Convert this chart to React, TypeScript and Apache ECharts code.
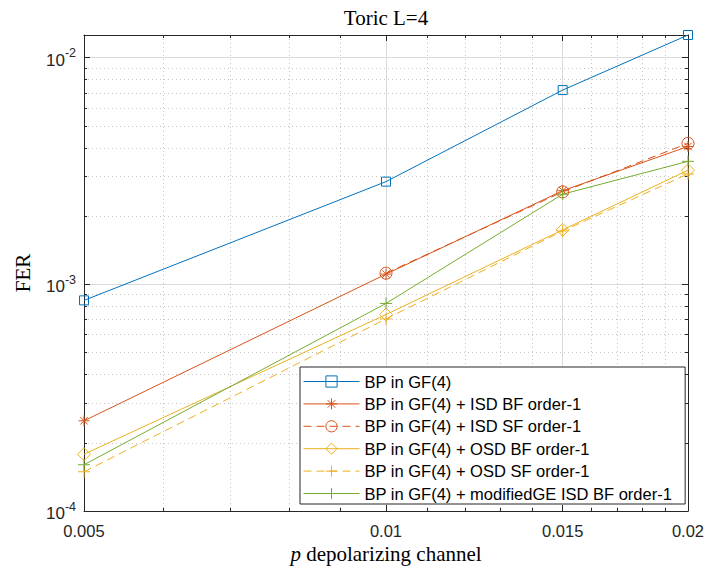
import React, { useEffect, useRef } from "react";
import * as echarts from "echarts";

// ---- data ----
const pValues = [0.005, 0.01, 0.015, 0.02];
const bpGF4 = [8.5e-4, 2.84e-3, 7.2e-3, 1.26e-2];
const isdBF = [2.5e-4, 1.11e-3, 2.59e-3, 4.06e-3];
const isdSF = [null, 1.12e-3, 2.56e-3, 4.19e-3];
const osdBF = [1.78e-4, 7.36e-4, 1.74e-3, 3.19e-3];
const osdSF = [1.49e-4, 7.04e-4, 1.72e-3, 3.07e-3];
const modGE = [1.6e-4, 8.24e-4, 2.5e-3, 3.49e-3];

const seriesNames = [
  "BP in GF(4)",
  "BP in GF(4) + ISD BF order-1",
  "BP in GF(4) + ISD SF order-1",
  "BP in GF(4) + OSD BF order-1",
  "BP in GF(4) + OSD SF order-1",
  "BP in GF(4) + modifiedGE ISD BF order-1",
];

// ---- axis ticks ----
const xMajorTicks = [0.005, 0.01, 0.015, 0.02];
const xTickLabels = ["0.005", "0.01", "0.015", "0.02"];
const xMinorTicks = [
  0.006, 0.007, 0.008, 0.009, 0.011, 0.012, 0.013, 0.014, 0.016, 0.017, 0.018, 0.019,
];
const yMajorTicks = [1e-4, 1e-3, 1e-2];
const yMinorTicks = [
  2e-4, 3e-4, 4e-4, 5e-4, 6e-4, 7e-4, 8e-4, 9e-4, 2e-3, 3e-3, 4e-3, 5e-3, 6e-3, 7e-3, 8e-3,
  9e-3,
];
const xMin = 0.005;
const xMax = 0.02;
const yMin = 1e-4;
const yMax = 0.0126;

const AXIS_COLOR = "#262626";
const SANS = "Liberation Sans";
const SERIF = "Liberation Serif";

const plusPath = "path://M5,0L5,10M0,5L10,5";
const starPath = "path://M5,0L5,10M0,5L10,5M1.6,1.6L8.4,8.4M1.6,8.4L8.4,1.6";

function pairs(vals: (number | null)[]) {
  return pValues.map((p, i) => [p, vals[i] === null ? "-" : vals[i]]);
}

export default function App() {
  const ref = useRef<HTMLDivElement>(null);

  useEffect(() => {
    if (!ref.current) return;
    const chart = echarts.init(ref.current, undefined, { renderer: "svg" });

    const majorGrid = { show: true, lineStyle: { color: "#dadada", width: 1, type: "solid" } };
    const minorGrid = { show: true, lineStyle: { color: "#c4c4c4", width: 1, type: [1, 3] } };

    const xAxisBase = {
      type: "log",
      min: xMin,
      max: xMax,
      logBase: 10,
      minorTick: { show: false },
      minorSplitLine: { show: false },
    };
    const yAxisBase = {
      type: "log",
      min: yMin,
      max: yMax,
      logBase: 10,
      minorTick: { show: false },
      minorSplitLine: { show: false },
    };

    const lineAxis = { show: true, lineStyle: { color: AXIS_COLOR, width: 1 } };

    const tick = (vals: number[], len: number) => ({
      show: true,
      inside: true,
      length: len,
      customValues: vals,
      lineStyle: { color: AXIS_COLOR },
    });

    const xAxes = [
      {
        ...xAxisBase,
        position: "bottom",
        axisLine: lineAxis,
        axisTick: tick(xMajorTicks, 6),
        splitLine: majorGrid,
        axisLabel: {
          show: true,
          customValues: xMajorTicks,
          margin: 11,
          fontFamily: SANS,
          fontSize: 16.5,
          color: AXIS_COLOR,
          formatter: (v: number) => {
            const i = xMajorTicks.findIndex((t) => Math.abs(t - v) < 1e-9);
            return i >= 0 ? xTickLabels[i] : "";
          },
        },
        name: "{i|p} depolarizing channel",
        nameLocation: "middle",
        nameGap: 28,
        nameTextStyle: {
          fontFamily: SERIF,
          fontSize: 21,
          color: "#000",
          rich: {
            i: { fontFamily: SERIF, fontSize: 21, fontStyle: "italic", color: "#000" },
          },
        },
      },
      {
        ...xAxisBase,
        position: "bottom",
        axisLine: { show: false },
        axisTick: tick(xMinorTicks, 3),
        splitLine: minorGrid,
        axisLabel: { show: false },
      },
      {
        ...xAxisBase,
        position: "top",
        axisLine: lineAxis,
        axisTick: tick(xMajorTicks, 6),
        splitLine: { show: false },
        axisLabel: { show: false },
      },
      {
        ...xAxisBase,
        position: "top",
        axisLine: { show: false },
        axisTick: tick(xMinorTicks, 3),
        splitLine: { show: false },
        axisLabel: { show: false },
      },
    ];

    const yAxes = [
      {
        ...yAxisBase,
        position: "left",
        axisLine: lineAxis,
        axisTick: tick(yMajorTicks, 6),
        splitLine: majorGrid,
        axisLabel: {
          show: true,
          customValues: yMajorTicks,
          margin: 8,
          color: AXIS_COLOR,
          fontFamily: SANS,
          fontSize: 16.5,
          formatter: (v: number) => {
            const e = Math.round(Math.log10(v));
            return "{b|10}{s|" + e + "}";
          },
          rich: {
            b: {
              fontFamily: SANS,
              fontSize: 17,
              color: AXIS_COLOR,
              lineHeight: 22,
              verticalAlign: "bottom",
              padding: [6, 0, 0, 0],
            },
            s: {
              fontFamily: SANS,
              fontSize: 12.5,
              color: AXIS_COLOR,
              lineHeight: 12,
              verticalAlign: "top",
            },
          },
        },
        name: "FER",
        nameLocation: "middle",
        nameGap: 51,
        nameTextStyle: { fontFamily: SERIF, fontSize: 21, color: "#000" },
      },
      {
        ...yAxisBase,
        position: "left",
        axisLine: { show: false },
        axisTick: tick(yMinorTicks, 3),
        splitLine: minorGrid,
        axisLabel: { show: false },
      },
      {
        ...yAxisBase,
        position: "right",
        axisLine: lineAxis,
        axisTick: tick(yMajorTicks, 6),
        splitLine: { show: false },
        axisLabel: { show: false },
      },
      {
        ...yAxisBase,
        position: "right",
        axisLine: { show: false },
        axisTick: tick(yMinorTicks, 3),
        splitLine: { show: false },
        axisLabel: { show: false },
      },
    ];

    const mk = (
      name: string,
      vals: (number | null)[],
      color: string,
      symbol: string,
      size: number,
      dashed: boolean
    ) => ({
      name,
      type: "line",
      xAxisIndex: 0,
      yAxisIndex: 0,
      data: pairs(vals),
      symbol,
      symbolSize: size,
      showSymbol: true,
      showAllSymbol: true,
      z: 3,
      color,
      lineStyle: { color, width: 1, type: dashed ? [8, 5] : "solid" },
      itemStyle: { color: "transparent", borderColor: color, borderWidth: 1 },
      emphasis: { disabled: true },
    });

    const option = {
      animation: false,
      backgroundColor: "#ffffff",
      grid: {
        left: 84,
        right: 20,
        top: 35,
        bottom: 55,
        containLabel: false,
        outerBoundsMode: "none",
      },
      graphic: [
        {
          type: "text",
          x: 386,
          y: 18,
          style: {
            text: "Toric L=4",
            fontFamily: SERIF,
            fontSize: 21,
            fill: "#000",
            align: "center",
            verticalAlign: "middle",
          },
        },
      ],
      legend: {
        data: seriesNames,
        orient: "vertical",
        left: 300,
        top: 367,
        itemWidth: 56,
        itemHeight: 14,
        itemGap: 5.4,
        padding: [6, 13, 2, 3],
        backgroundColor: "#ffffff",
        borderColor: AXIS_COLOR,
        borderWidth: 1,
        borderRadius: 0,
        selectedMode: false,
        lineStyle: { width: 1 },
        itemStyle: { borderWidth: 1 },
        textStyle: { fontFamily: SANS, fontSize: 16.5, color: "#000" },
      },
      xAxis: xAxes,
      yAxis: yAxes,
      series: [
        mk(seriesNames[0], bpGF4, "#0072BD", "rect", 9, false),
        mk(seriesNames[1], isdBF, "#D95319", starPath, 11, false),
        mk(seriesNames[2], isdSF, "#D95319", "circle", 12, true),
        mk(seriesNames[3], osdBF, "#EDB120", "diamond", 13, false),
        mk(seriesNames[4], osdSF, "#EDB120", plusPath, 12, true),
        mk(seriesNames[5], modGE, "#77AC30", plusPath, 12, false),
      ],
    };

    chart.setOption(option as any);
    return () => chart.dispose();
  }, []);

  return (
    <div
      ref={ref}
      style={{ position: "absolute", left: 0, top: 0, width: 708, height: 566, background: "#fff" }}
    />
  );
}
